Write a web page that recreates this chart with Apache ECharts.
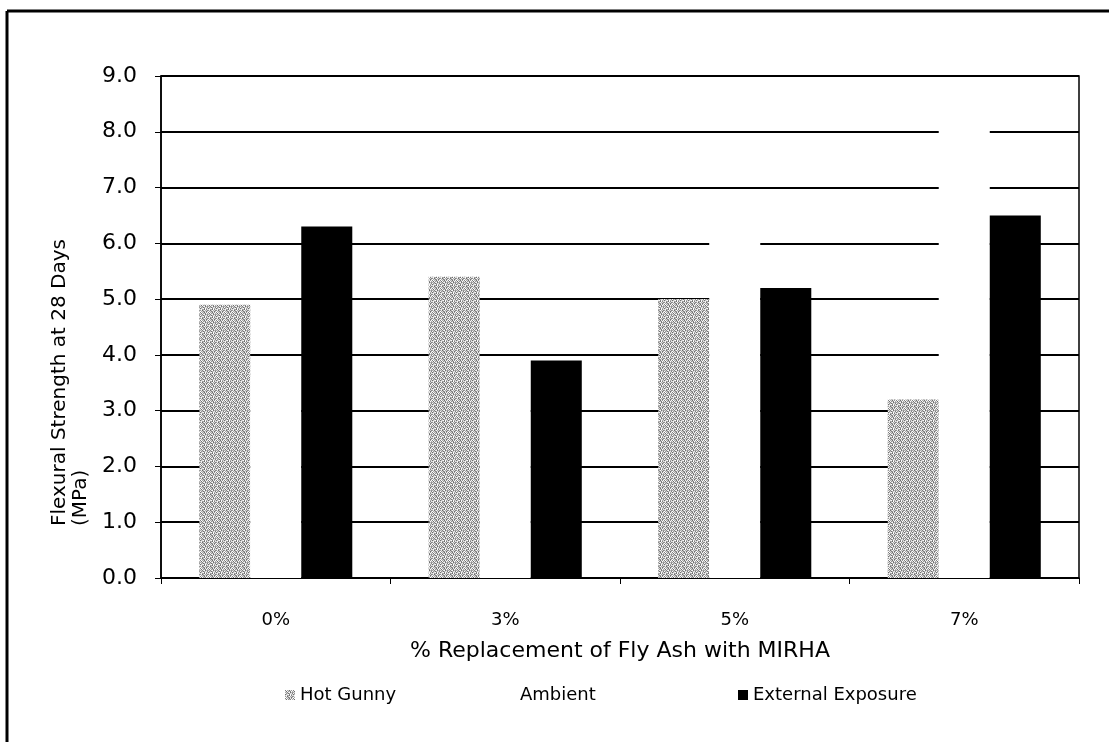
<!DOCTYPE html>
<html>
<head>
<meta charset="utf-8">
<script src="https://cdn.jsdelivr.net/npm/echarts@6/dist/echarts.min.js"></script>
<style>
  html, body { margin: 0; padding: 0; background: #fff; }
  #chart { width: 1109px; height: 742px; }
</style>
</head>
<body>
<div id="chart"></div>
<script>
// ---- data ----
const categories = ['0%', '3%', '5%', '7%'];
const seriesNames = ['Hot Gunny', 'Ambient', 'External Exposure'];
const hotGunny = [4.9, 5.4, 5.0, 3.2];
const ambient = [3.6, 3.9, 6.3, 8.2];
const externalExposure = [6.3, 3.9, 5.2, 6.5];
const yTicks = [0, 1, 2, 3, 4, 5, 6, 7, 8, 9];

// ---- stipple texture for the grey bars (fixed hand-written tile) ----
const tileRows = [
  '29461738',
  '71835294',
  '46279153',
  '83514672',
  '15792846',
  '68341927',
  '37158462',
  '94623715'
];
function makeStipple() {
  const c = document.createElement('canvas');
  c.width = 8; c.height = 8;
  const ctx = c.getContext('2d');
  for (let y = 0; y < 8; y++) {
    for (let x = 0; x < 8; x++) {
      const d = +tileRows[y][x];
      const g = Math.min(255, 90 + d * 20);
      ctx.fillStyle = 'rgb(' + g + ',' + g + ',' + g + ')';
      ctx.fillRect(x, y, 1, 1);
    }
  }
  return c;
}
const stipple = { image: makeStipple(), repeat: 'repeat' };

const FONT = 'DejaVu Sans';
const chart = echarts.init(document.getElementById('chart'), null, { renderer: 'canvas' });

const legendText = { fontFamily: FONT, fontSize: 18, color: '#000' };
const legendBase = { top: 681, itemWidth: 10, itemHeight: 10, icon: 'rect', textStyle: legendText };

chart.setOption({
  animation: false,
  backgroundColor: '#ffffff',
  grid: {
    left: 161, right: 30, top: 76, bottom: 164,
    show: true, borderColor: '#000', borderWidth: 1.5, backgroundColor: 'transparent'
  },
  legend: [
    Object.assign({ left: 280, data: [seriesNames[0]] }, legendBase),
    Object.assign({ left: 500, data: [seriesNames[1]] }, legendBase),
    Object.assign({ left: 733, data: [seriesNames[2]] }, legendBase)
  ],
  xAxis: {
    type: 'category',
    data: categories,
    name: '% Replacement of Fly Ash with MIRHA',
    nameLocation: 'middle',
    nameGap: 62,
    nameTextStyle: { fontFamily: FONT, fontSize: 22, color: '#000' },
    axisLine: { lineStyle: { color: '#000', width: 1.5 } },
    axisTick: { show: true, length: 6, lineStyle: { color: '#000' } },
    axisLabel: { margin: 33, fontFamily: FONT, fontSize: 18, color: '#000' }
  },
  yAxis: {
    type: 'value',
    min: yTicks[0], max: yTicks[yTicks.length - 1], interval: 1,
    axisLine: { show: true, lineStyle: { color: '#000', width: 1.5 } },
    axisTick: { show: true, length: 6, lineStyle: { color: '#000' } },
    axisLabel: { margin: 24, fontFamily: FONT, fontSize: 22, color: '#000',
      formatter: v => v.toFixed(1) },
    splitLine: { show: true, lineStyle: { color: '#000', width: 2 } }
  },
  graphic: [
    { type: 'text', x: 49, y: 526, rotation: Math.PI / 2, z: 100,
      style: { text: 'Flexural Strength at 28 Days\n(MPa)', font: '20px "' + FONT + '"',
        fill: '#000', textAlign: 'left', textVerticalAlign: 'top', lineHeight: 21 } },
    { type: 'line', shape: { x1: 7, y1: 11, x2: 1109, y2: 11 }, style: { stroke: '#000', lineWidth: 3 } },
    { type: 'line', shape: { x1: 7, y1: 11, x2: 7, y2: 742 }, style: { stroke: '#000', lineWidth: 3 } }
  ],
  series: [
    { name: seriesNames[0], type: 'bar', data: hotGunny, barGap: '0%', barCategoryGap: '33.3%',
      itemStyle: { color: stipple } },
    { name: seriesNames[1], type: 'bar', data: ambient, barGap: '0%', barCategoryGap: '33.3%',
      itemStyle: { color: '#ffffff' } },
    { name: seriesNames[2], type: 'bar', data: externalExposure, barGap: '0%', barCategoryGap: '33.3%',
      itemStyle: { color: '#000000' } }
  ]
});
</script>
</body>
</html>
